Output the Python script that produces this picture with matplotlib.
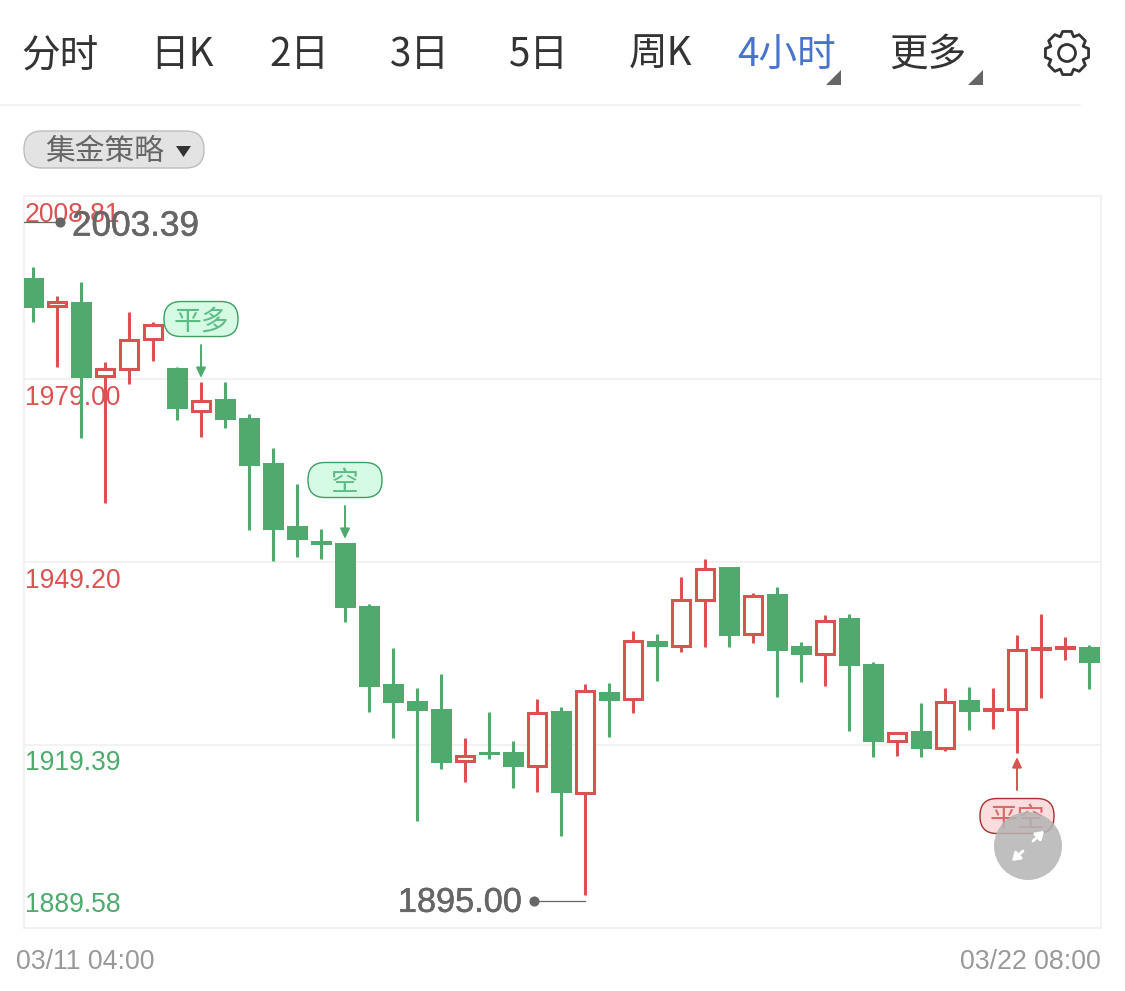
import numpy as np
import matplotlib
matplotlib.use('Agg')
import matplotlib.pyplot as plt
from matplotlib.patches import FancyBboxPatch, Circle, Polygon
from matplotlib.transforms import offset_copy
import matplotlib.patheffects as pe

plt.rcParams['font.family'] = ['Noto Sans CJK SC', 'DejaVu Sans']

### Data
opens = [1995.45, 1990.73, 1991.54, 1979.33, 1980.47, 1985.35, 1980.79, 1973.63, 1975.74,
         1972.65, 1965.32, 1955.05, 1952.61, 1952.29, 1942.02, 1929.32, 1926.55, 1925.24,
         1916.61, 1918.24, 1918.24, 1915.80, 1924.92, 1911.40, 1928.01, 1926.71, 1936.32,
         1935.34, 1942.84, 1948.38, 1937.30, 1943.98, 1935.51, 1934.04, 1940.07, 1932.57,
         1919.87, 1921.66, 1918.73, 1926.71, 1924.92, 1925.08, 1934.85, 1935.00, 1935.34]
closes = [1990.57, 1991.71, 1979.16, 1980.79, 1985.52, 1987.96, 1974.11, 1975.58, 1972.32,
          1964.83, 1954.40, 1952.77, 1951.96, 1941.70, 1928.83, 1926.22, 1924.92, 1916.45,
          1917.75, 1917.75, 1915.80, 1924.76, 1911.56, 1928.34, 1926.55, 1936.48, 1935.34,
          1943.16, 1948.21, 1937.14, 1943.81, 1934.69, 1934.04, 1939.74, 1932.25, 1919.87,
          1921.50, 1918.73, 1926.55, 1924.76, 1925.41, 1935.02, 1935.35, 1935.50, 1932.74]
highs = [1997.25, 1992.52, 1994.80, 1981.77, 1989.92, 1988.29, 1980.96, 1978.51, 1978.51,
         1973.30, 1967.76, 1961.90, 1954.57, 1952.29, 1942.35, 1935.18, 1928.66, 1930.95,
         1920.52, 1924.76, 1920.03, 1926.87, 1925.57, 1929.32, 1929.48, 1937.95, 1937.46,
         1946.75, 1949.68, 1948.38, 1944.14, 1945.12, 1936.16, 1940.56, 1940.72, 1932.90,
         1921.50, 1926.22, 1928.66, 1928.83, 1928.66, 1937.30, 1940.72, 1936.97, 1935.67]
lows = [1988.29, 1980.96, 1969.39, 1958.80, 1978.19, 1981.93, 1972.32, 1969.55, 1971.02,
        1954.40, 1949.35, 1950.00, 1949.68, 1939.42, 1924.76, 1920.52, 1907.00, 1915.47,
        1913.35, 1917.10, 1912.37, 1911.72, 1904.56, 1895.00, 1920.68, 1924.59, 1929.81,
        1934.53, 1935.34, 1935.34, 1936.00, 1927.20, 1929.64, 1928.99, 1921.66, 1917.42,
        1917.59, 1917.42, 1918.40, 1921.82, 1921.99, 1918.08, 1927.04, 1933.23, 1928.50]

y_ticks = [2008.81, 1979.00, 1949.20, 1919.39, 1889.58]
y_labels = ['2008.81', '1979.00', '1949.20', '1919.39', '1889.58']
x_labels = ['03/11 04:00', '03/22 08:00']
tabs = ['分时', '日K', '2日', '3日', '5日', '周K', '4小时', '更多']

GREEN = '#4FAA6E'
RED = '#D95353'
GRID = '#EFEFEF'
W, H = 1125, 991

fig = plt.figure(figsize=(W / 100, H / 100), dpi=100, facecolor='white')

### Chart area
ax = fig.add_axes([24 / W, 1 - 928 / H, (1101 - 24) / W, (928 - 196) / H])
ax.set_xlim(-0.375, 44.5)
ax.set_ylim(1889.58, 2008.81)
ax.set_xticks([])
ax.set_yticks(y_ticks[1:4])
ax.tick_params(axis='y', length=0, labelleft=False)
ax.grid(axis='y', color=GRID, lw=1.1)
ax.set_axisbelow(True)
for s in ax.spines.values():
    s.set_color(GRID)
    s.set_linewidth(1.1)

idx = np.arange(len(opens))
opens = np.array(opens)
closes = np.array(closes)
up = closes >= opens
colors = [RED if u else GREEN for u in up]
ax.vlines(idx, lows, highs, colors=colors, lw=2.2, zorder=2)
ax.bar(idx[~up], (opens - closes)[~up], bottom=closes[~up], width=0.875,
       color=GREEN, zorder=3)
# hollow bodies: the stroke is centred on the outline, so pull it in by half a stroke
inset = 0.2
ax.bar(idx[up], np.maximum((closes - opens)[up] - 2 * inset, 0.02), bottom=opens[up] + inset,
       width=0.77, facecolor='white', edgecolor=RED, lw=2.2, zorder=3)

# y labels sit inside the chart, under their grid line
label_colors = [RED, RED, RED, GREEN, GREEN]
label_offsets = [-19, -19, -19, -18, 23]
for v, t, c, o in zip(y_ticks, y_labels, label_colors, label_offsets):
    tr = offset_copy(ax.get_yaxis_transform(), fig=fig, x=1, y=o, units='dots')
    ax.text(0, v, t, transform=tr, color=c, fontsize=19.1, va='center', ha='left',
            family='Liberation Sans', zorder=1)

# x labels under the chart
tr = offset_copy(ax.transAxes, fig=fig, y=-34, units='dots')
ax.text(-8 / 1077, 0, x_labels[0], transform=tr, color='#999999', fontsize=19.3,
        va='center', ha='left', family='Liberation Sans')
ax.text(1, 0, x_labels[1], transform=tr, color='#999999', fontsize=19.3,
        va='center', ha='right', family='Liberation Sans')

# high / low marks
stroke = [pe.withStroke(linewidth=0.4, foreground='#666666')]
ax.plot([-0.375, 1.125], [2004.55, 2004.55], color='#666666', lw=0.9, zorder=5)
ax.plot([1.125], [2004.55], 'o', color='#666666', ms=6.3, zorder=5)
ax.text(1.625, 2003.9, '2003.39', color='#666666', fontsize=25.3, va='center', ha='left',
        family='Liberation Sans', path_effects=stroke, zorder=5)
ax.plot([20.875, 23], [1893.97, 1893.97], color='#666666', lw=0.9, zorder=5)
ax.plot([20.875], [1893.97], 'o', color='#666666', ms=6.3, zorder=5)
ax.text(20.375, 1893.6, '1895.00', color='#666666', fontsize=24.7, va='center', ha='right',
        family='Liberation Sans', path_effects=stroke, zorder=5)

### Page overlay, in pixels
ov = fig.add_axes([0, 0, 1, 1], facecolor='none')
ov.set_xlim(0, W)
ov.set_ylim(H, 0)
ov.axis('off')

tab_x = [60, 182, 299, 420, 539, 660, 787, 928]
for t, x in zip(tabs, tab_x):
    ov.text(x, 55, t, fontsize=27.8, ha='center', va='center', weight='light',
            color='#4A74C9' if t == '4小时' else '#333333')
for x in (841, 983):
    ov.add_patch(Polygon([(x, 70), (x, 85), (x - 15, 85)], color='#666666', lw=0))
ov.plot([0, 1080], [105, 105], color=GRID, lw=1.1)

# gear
ang = np.linspace(0, 2 * np.pi, 8, endpoint=False) + np.pi / 2
gx, gy = [], []
for a in ang:
    for da, r in [(-0.39, 17.5), (-0.2, 22), (0.2, 22), (0.39, 17.5)]:
        gx.append(1067 + r * np.cos(a + da))
        gy.append(53 + r * np.sin(a + da))
ov.add_patch(Polygon(np.column_stack([gx, gy]), closed=True, fill=False, ec='#333333',
                     lw=2, joinstyle='round'))
ov.add_patch(Circle((1067, 53), 8.5, fill=False, ec='#333333', lw=2))

# strategy pill
ov.add_patch(FancyBboxPatch((24 + 18, 131 + 18), 180 - 36, 37 - 36,
                            boxstyle='round,pad=18', fc='#E3E3E3', ec='#BDBDBD', lw=1))
ov.text(105, 152, '集金策略', fontsize=21.4, ha='center', va='center', color='#666666',
        weight='light')
ov.add_patch(Polygon([(176, 146), (191, 146), (183.5, 157)], color='#333333', lw=0))

# trade signals, hung on their candle
signals = [(7, '平多', highs, -1), (13, '空', highs, -1), (41, '平空', lows, 1)]
styles = {-1: ('#D5FBE5', '#3E9E63', '#5DBB85', GREEN), 1: ('#FCDCDC', '#A83030', '#D96A6A', RED)}
for i, label, src, d in signals:
    x, y = ov.transData.inverted().transform(ax.transData.transform((i, src[i])))
    fc, ec, tc, ac = styles[d]
    ov.annotate('', xy=(x, y + d * 4), xytext=(x, y + d * 37),
                arrowprops=dict(arrowstyle='-|>,head_width=0.28,head_length=0.6', color=ac,
                                lw=1.4, shrinkA=0, shrinkB=0))
    cy = y + (63 if d > 0 else -63)
    ov.add_patch(FancyBboxPatch((x - 37 + 17, cy - 17.5 + 17), 40, 1,
                                boxstyle='round,pad=17', fc=fc, ec=ec, lw=1))
    ov.text(x, cy + 3, label, fontsize=20, ha='center', va='center', color=tc, weight='light')

# expand button
ov.add_patch(Circle((1028, 846), 34, fc='#B4B4B4', alpha=0.85, lw=0, zorder=6))
for p0, p1 in [((1023, 851), (1012, 861)), ((1033, 841), (1044, 831))]:
    ov.annotate('', xy=p1, xytext=p0, zorder=7,
                arrowprops=dict(arrowstyle='-|>,head_width=0.3,head_length=0.45', color='white',
                                lw=2, shrinkA=0, shrinkB=0))

plt.savefig('out.png', dpi=100)
